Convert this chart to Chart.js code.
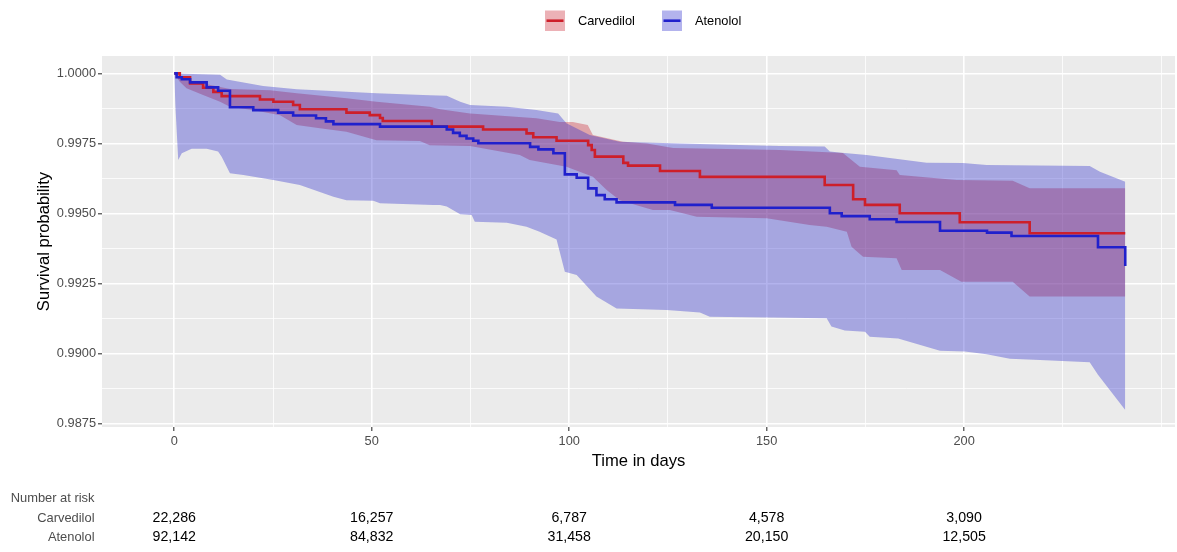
<!DOCTYPE html>
<html>
<head>
<meta charset="utf-8">
<script src="https://cdn.jsdelivr.net/npm/chart.js@4.4.1/dist/chart.umd.min.js"></script>
<style>
  html, body { margin: 0; padding: 0; background: #ffffff; }
  #wrap { width: 1177px; height: 552px; }
</style>
</head>
<body>
<div id="wrap"><canvas id="km" width="1177" height="552"></canvas></div>
<script>
// Kaplan-Meier estimates: [day, survival] at each step
const carvedilolSteps = [
  [0, 1.0], [1.4, 0.99986], [4.0, 0.99964], [7.3, 0.99949], [9.9, 0.99934], [12.0, 0.99919],
  [21.7, 0.99907], [25.1, 0.99899], [30.1, 0.99887], [31.8, 0.99872], [43.6, 0.99860],
  [49.5, 0.99851], [52.1, 0.99841], [52.8, 0.99830], [65.2, 0.99810], [78.2, 0.99800],
  [89.2, 0.99786], [90.9, 0.99772], [96.8, 0.99760], [104.8, 0.99744], [105.7, 0.99727],
  [106.5, 0.99703], [113.7, 0.99681], [114.9, 0.99671], [123.0, 0.99652], [133.1, 0.99631],
  [164.7, 0.99602], [171.9, 0.99551], [174.9, 0.99531], [183.7, 0.99501], [198.9, 0.99469],
  [216.6, 0.99430], [240.8, 0.99430]
];
const atenololSteps = [
  [0, 1.0], [0.6, 0.99986], [1.9, 0.99979], [4.0, 0.99968], [8.2, 0.99950], [11.1, 0.99938],
  [14.1, 0.99879], [20.0, 0.99869], [26.3, 0.99860], [30.1, 0.99850], [35.9, 0.99840],
  [38.4, 0.99829], [40.3, 0.99819], [52.1, 0.99810], [69.0, 0.99800], [70.6, 0.99788],
  [72.3, 0.99777], [74.0, 0.99768], [75.7, 0.99760], [77.0, 0.99751], [90.1, 0.99738],
  [92.2, 0.99729], [96.0, 0.99715], [98.9, 0.99640], [101.9, 0.99628], [104.8, 0.99590],
  [106.9, 0.99566], [109.0, 0.99551], [112.0, 0.99540], [126.8, 0.99531], [136.1, 0.99521],
  [166.0, 0.99501], [169.0, 0.99491], [176.1, 0.99480], [182.9, 0.99470], [193.9, 0.99439],
  [205.8, 0.99432], [212.0, 0.99420], [233.9, 0.99380], [240.8, 0.99313]
];

// 95% confidence limits: [day, survival]
const carvedilolUpper = [
  [0, 1.0], [1.4, 0.99982], [7.3, 0.99964], [14.1, 0.99944], [24.2, 0.99940], [31.0, 0.99929],
  [43.6, 0.99911], [51.2, 0.99899], [64.7, 0.99881], [67.3, 0.99872], [74.9, 0.99857],
  [91.7, 0.99840], [97.6, 0.99827], [100.9, 0.99827], [104.7, 0.99816], [106.0, 0.99780],
  [113.6, 0.99756], [119.7, 0.99750], [126.3, 0.99734], [153.3, 0.99727], [169.3, 0.99716],
  [173.6, 0.99667], [182.9, 0.99655], [183.7, 0.99638], [198.1, 0.99620], [212.3, 0.99617],
  [216.6, 0.99590], [240.8, 0.99590]
];
const carvedilolLower = [
  [0, 1.0], [1.4, 0.99970], [3.1, 0.99947], [7.3, 0.99923], [11.6, 0.99899], [14.1, 0.99881],
  [19.9, 0.99869], [26.8, 0.99851], [31.0, 0.99816], [36.9, 0.99804], [43.6, 0.99792],
  [51.2, 0.99762], [62.2, 0.99759], [64.7, 0.99744], [74.9, 0.99741], [87.5, 0.99709],
  [90.0, 0.99691], [99.3, 0.99667], [106.0, 0.99631], [109.5, 0.99584], [112.8, 0.99548],
  [121.2, 0.99513], [125.5, 0.99513], [132.3, 0.99489], [150.0, 0.99483], [160.9, 0.99459],
  [165.2, 0.99453], [170.3, 0.99435], [171.5, 0.99382], [174.4, 0.99346], [182.9, 0.99341],
  [184.2, 0.99299], [193.9, 0.99299], [199.3, 0.99257], [212.3, 0.99257], [216.6, 0.99204],
  [240.8, 0.99204]
];
const atenololUpper = [
  [0, 1.0], [11.6, 0.99995], [13.3, 0.99978], [22.5, 0.99955], [31.0, 0.99943], [36.1, 0.99940],
  [51.2, 0.99929], [64.7, 0.99922], [69.0, 0.99920], [72.4, 0.99899], [74.9, 0.99887],
  [84.2, 0.99881], [91.7, 0.99869], [97.2, 0.99857], [99.3, 0.99822], [105.2, 0.99780],
  [112.8, 0.99756], [128.0, 0.99750], [153.3, 0.99741], [164.7, 0.99739], [166.0, 0.99721],
  [169.0, 0.99717], [175.3, 0.99709], [190.5, 0.99681], [199.7, 0.99680], [205.7, 0.99673],
  [231.8, 0.99670], [234.4, 0.99649], [240.8, 0.99614]
];
const atenololLower = [
  [0, 1.0], [0.3, 0.99880], [1.0, 0.99691], [1.9, 0.99715], [4.4, 0.99731], [8.2, 0.99731],
  [11.1, 0.99721], [12.0, 0.99703], [14.1, 0.99644], [17.5, 0.99638], [25.1, 0.99620],
  [31.8, 0.99602], [40.3, 0.99560], [43.6, 0.99548], [50.4, 0.99546], [52.1, 0.99537],
  [65.6, 0.99531], [67.3, 0.99531], [69.0, 0.99525], [72.4, 0.99498], [75.3, 0.99495],
  [76.1, 0.99471], [84.2, 0.99467], [89.2, 0.99453], [92.5, 0.99435], [96.8, 0.99408],
  [98.9, 0.99293], [101.9, 0.99281], [106.9, 0.99204], [112.0, 0.99162], [124.7, 0.99156],
  [133.1, 0.99147], [135.6, 0.99132], [165.2, 0.99127], [166.4, 0.99097], [169.8, 0.99083],
  [174.9, 0.99079], [176.1, 0.99061], [183.3, 0.99055], [193.9, 0.99011], [200.2, 0.99008],
  [205.7, 0.98998], [211.6, 0.98982], [219.2, 0.98978], [231.8, 0.98970], [233.9, 0.98925],
  [240.8, 0.98800]
];

// Axis breaks
const xMajorTicks = [0, 50, 100, 150, 200];
const xMinorTicks = [25, 75, 125, 175, 225, 250];
const yMajorTicks = [0.9875, 0.9900, 0.9925, 0.9950, 0.9975, 1.0000];
const yMinorTicks = [0.98875, 0.99125, 0.99375, 0.99625, 0.99875];

// Risk table
const groupNames = ['Carvedilol', 'Atenolol'];
const riskTimes = [0, 50, 100, 150, 200];
const carvedilolAtRisk = ['22,286', '16,257', '6,787', '4,578', '3,090'];
const atenololAtRisk = ['92,142', '84,832', '31,458', '20,150', '12,505'];

const RED = '#CD1F2A';
const BLUE = '#2020CC';
const RED_FILL = 'rgba(200, 25, 42, 0.34)';
const BLUE_FILL = 'rgba(31, 31, 203, 0.34)';
const FONT = "'Liberation Sans', Arial, Helvetica, sans-serif";

const toXY = arr => arr.map(([x, y]) => ({ x, y }));
const isIn = (list, v) => list.some(t => Math.abs(t - v) < 1e-7);

Chart.defaults.font.family = FONT;

const panelBackground = {
  id: 'panelBackground',
  beforeDraw(chart) {
    const { ctx, chartArea: a } = chart;
    ctx.save();
    ctx.fillStyle = '#EBEBEB';
    ctx.fillRect(a.left, a.top, a.right - a.left, a.bottom - a.top);
    ctx.restore();
  }
};

const topLegend = {
  id: 'topLegend',
  afterDraw(chart) {
    const { ctx } = chart;
    const items = [
      { label: groupNames[0], line: RED, fill: RED_FILL, key: 545, text: 578 },
      { label: groupNames[1], line: BLUE, fill: BLUE_FILL, key: 662, text: 695 }
    ];
    ctx.save();
    items.forEach(it => {
      ctx.fillStyle = it.fill;
      ctx.fillRect(it.key, 10.5, 20, 20.5);
      ctx.strokeStyle = it.line;
      ctx.lineWidth = 2.6;
      ctx.beginPath();
      ctx.moveTo(it.key + 1.5, 20.7);
      ctx.lineTo(it.key + 18.5, 20.7);
      ctx.stroke();
      ctx.fillStyle = '#000000';
      ctx.font = '12.8px ' + FONT;
      ctx.textAlign = 'left';
      ctx.textBaseline = 'middle';
      ctx.fillText(it.label, it.text, 21.5);
    });
    ctx.restore();
  }
};

const riskTable = {
  id: 'riskTable',
  afterDraw(chart) {
    const { ctx } = chart;
    const xs = chart.scales.x;
    ctx.save();
    ctx.textBaseline = 'middle';
    ctx.font = '12.9px ' + FONT;
    ctx.fillStyle = '#4D4D4D';
    ctx.textAlign = 'right';
    ctx.fillText('Number at risk', 94.5, 498.5);
    ctx.fillText(groupNames[0], 94.5, 518);
    ctx.fillText(groupNames[1], 94.5, 537.5);
    ctx.fillStyle = '#000000';
    ctx.font = '14.2px ' + FONT;
    ctx.textAlign = 'center';
    riskTimes.forEach((t, i) => {
      const px = xs.getPixelForValue(t);
      ctx.fillText(carvedilolAtRisk[i], px, 518.5);
      ctx.fillText(atenololAtRisk[i], px, 537.5);
    });
    ctx.restore();
  }
};

const gridStyle = (majors) => ({
  color: '#FFFFFF',
  lineWidth: c => (c.tick && isIn(majors, c.tick.value)) ? 1.6 : 0.8,
  tickColor: c => (c.tick && isIn(majors, c.tick.value)) ? '#333333' : 'rgba(0,0,0,0)',
  tickLength: 4,
  tickWidth: 1.1,
  drawTicks: true
});

const bandStyle = { borderWidth: 0, pointRadius: 0, pointHoverRadius: 0, tension: 0 };

new Chart(document.getElementById('km'), {
  type: 'line',
  data: {
    datasets: [
      { label: 'Carvedilol upper', data: toXY(carvedilolUpper), fill: 1, backgroundColor: RED_FILL, order: 40, ...bandStyle },
      { label: 'Carvedilol lower', data: toXY(carvedilolLower), fill: false, order: 41, ...bandStyle },
      { label: 'Atenolol upper', data: toXY(atenololUpper), fill: 3, backgroundColor: BLUE_FILL, order: 30, ...bandStyle },
      { label: 'Atenolol lower', data: toXY(atenololLower), fill: false, order: 31, ...bandStyle },
      // horizontal first, then the drop at each event day
      { label: groupNames[0], data: toXY(carvedilolSteps), stepped: 'before', borderColor: RED, borderWidth: 2.6,
        pointRadius: 0, fill: false, order: 20 },
      { label: groupNames[1], data: toXY(atenololSteps), stepped: 'before', borderColor: BLUE, borderWidth: 2.6,
        pointRadius: 0, fill: false, order: 10 }
    ]
  },
  options: {
    responsive: false,
    animation: false,
    devicePixelRatio: 1,
    layout: { padding: { top: 56, right: 2, bottom: 80, left: 0 } },
    plugins: {
      legend: { display: false },
      tooltip: { enabled: false },
      filler: { propagate: false }
    },
    scales: {
      x: {
        type: 'linear',
        min: -18.3,
        max: 253.4,
        afterBuildTicks: s => { s.ticks = [...xMajorTicks, ...xMinorTicks].sort((a, b) => a - b).map(v => ({ value: v })); },
        afterFit: s => { s.height = 45; },
        ticks: {
          autoSkip: false, maxRotation: 0, padding: 3.2, color: '#4D4D4D',
          font: { size: 12.8 },
          callback: v => isIn(xMajorTicks, v) ? String(v) : ''
        },
        grid: gridStyle(xMajorTicks),
        border: { display: false },
        title: { display: true, text: 'Time in days', color: '#000000', font: { size: 16.6 }, padding: { top: 0, bottom: 1.0 } }
      },
      y: {
        type: 'linear',
        min: 0.98739,
        max: 1.00062,
        afterBuildTicks: s => { s.ticks = [...yMajorTicks, ...yMinorTicks].sort((a, b) => a - b).map(v => ({ value: v })); },
        afterFit: s => { s.width = 102; },
        ticks: {
          autoSkip: false, padding: 2, color: '#4D4D4D',
          font: { size: 12.8 },
          callback: v => isIn(yMajorTicks, v) ? v.toFixed(4) : ''
        },
        grid: gridStyle(yMajorTicks),
        border: { display: false },
        title: { display: true, text: 'Survival probability', color: '#000000', font: { size: 16.6 }, padding: { top: 34.6, bottom: 0 } }
      }
    }
  },
  plugins: [panelBackground, topLegend, riskTable]
});
</script>
</body>
</html>
